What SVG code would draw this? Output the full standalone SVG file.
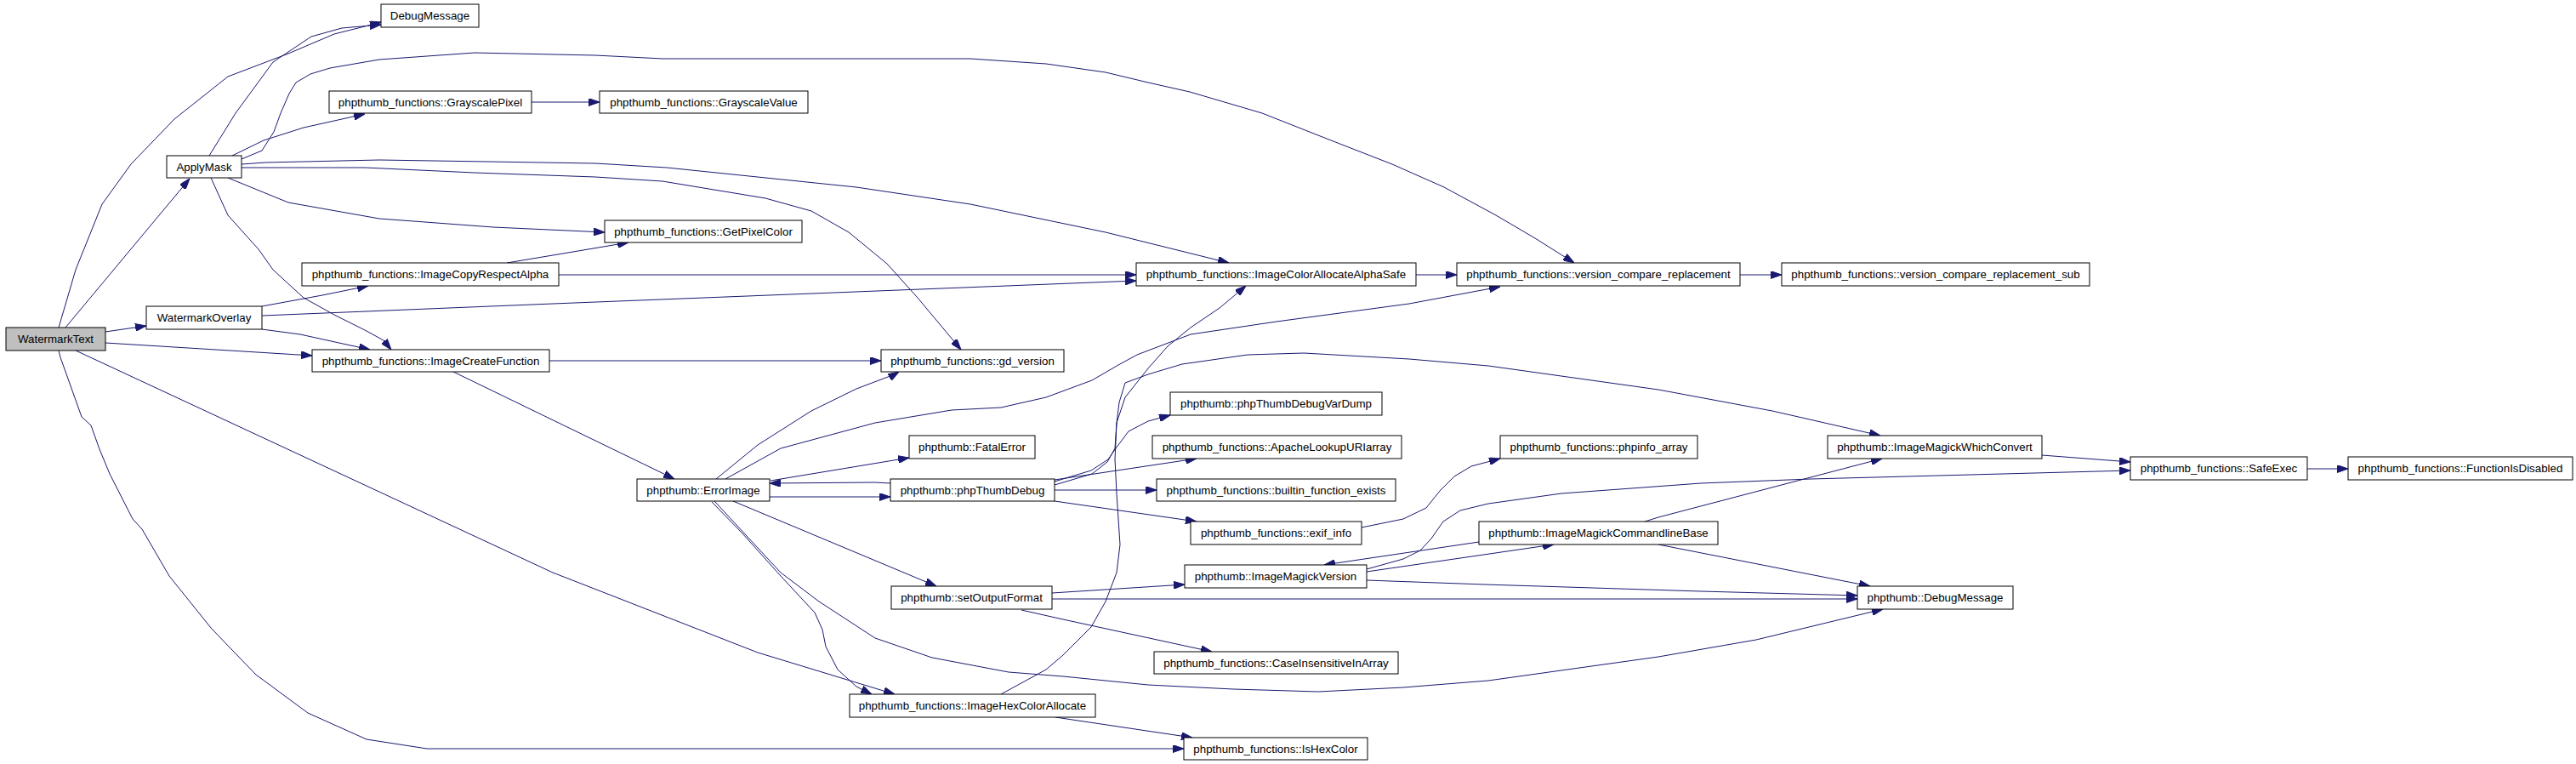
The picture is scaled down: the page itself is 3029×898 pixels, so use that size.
<svg xmlns="http://www.w3.org/2000/svg" width="3029" height="898" viewBox="0 0 3029 898">
<style>
.node rect{fill:#ffffff;stroke:#000000;stroke-width:1}
.node.root rect{fill:#bfbfbf}
.node text{font-family:"Liberation Sans",Arial,Helvetica,sans-serif;font-size:13.33px;fill:#000000;text-anchor:middle}
.edges path{fill:none;stroke:#191970;stroke-width:1;marker-end:url(#ah)}
</style>
<defs>
<marker id="ah" viewBox="0 0 13 9" refX="13" refY="4.5" markerWidth="13" markerHeight="9" markerUnits="userSpaceOnUse" orient="auto">
<path d="M0,0 L13,4.5 L0,9 z" fill="#191970" stroke="#191970" stroke-width="1"/>
</marker>
</defs>
<rect x="0" y="0" width="3029" height="898" fill="#ffffff"/>
<g class="edges">
<path d="M69,385 L89,317 L120,240 L154,193 L205,140 L268,90 L339,63 L393,40 L433,30 L448,26"/>
<path d="M77,385 L223,210"/>
<path d="M124,390 L172,383"/>
<path d="M124,403 L367,418"/>
<path d="M89,412 L650,673 L891,767 L1052,816"/>
<path d="M69,412 L71,420 L96,490 L107,500 L117,528 L129,557 L156,610 L167,622 L199,677 L248,738 L272,763 L301,793 L362,838 L431,869 L502,880 L1392,880"/>
<path d="M246,183 L277,133 L321,73 L366,43 L402,33 L448,29"/>
<path d="M273,183 L310,165 L357,150 L429,134"/>
<path d="M284,187 L308,177 L322,155 L330,133 L340,110 L348,97 L365,87 L388,80 L446,70 L558,62 L700,65 L779,69 L1141,69 L1230,75 L1300,85 L1350,97 L1399,108 L1484,133 L1560,163 L1637,193 L1698,220 L1759,253 L1805,280 L1851,309"/>
<path d="M284,193 L312,191 L446,188 L700,192 L784,197 L1007,220 L1141,240 L1300,273 L1445,309"/>
<path d="M284,197 L429,197 L558,203 L700,208 L779,213 L900,233 L954,248 L998,273 L1043,310 L1079,350 L1130,411"/>
<path d="M268,209 L339,238 L446,257 L580,267 L711,273"/>
<path d="M248,209 L268,253 L304,293 L321,317 L357,350 L393,370 L429,388 L451,400 L460,411"/>
<path d="M308,360 L379,347 L433,336"/>
<path d="M308,371 L650,357 L1336,330"/>
<path d="M308,387 L353,393 L435,411"/>
<path d="M596,309 L650,300 L739,285"/>
<path d="M657,323 L1336,323"/>
<path d="M625,120 L705,120"/>
<path d="M646,424 L1036,424"/>
<path d="M533,437 L793,563"/>
<path d="M1665,323 L1713,323"/>
<path d="M2046,323 L2095,323"/>
<path d="M842,563 L891,523 L954,483 L1007,457 L1052,440 L1057,437"/>
<path d="M853,563 L918,527 L1029,497 L1119,482 L1177,479 L1230,467 L1284,447 L1315,429 L1337,417 L1400,393 L1501,378 L1657,357 L1764,337"/>
<path d="M906,565 L1069,538"/>
<path d="M905,584 L1029,584 L1047,584"/>
<path d="M1047,568 L1029,567 L905,568"/>
<path d="M862,589 L1101,689"/>
<path d="M837,590 L873,627 L918,677 L958,720 L967,740 L971,760 L985,787 L1007,807 L1025,816"/>
<path d="M840,589 L918,673 L963,707 L1029,750 L1096,773 L1186,790 L1250,795 L1350,805 L1450,810 L1550,813 L1650,808 L1750,800 L1950,772 L2065,752 L2214,716"/>
<path d="M1240,566 L1283,553 L1303,540 L1312,527 L1327,507 L1350,495 L1376,488"/>
<path d="M1240,564 L1407,539"/>
<path d="M1240,576 L1360,576"/>
<path d="M1240,589 L1407,613"/>
<path d="M1240,570 L1284,557 L1302,543 L1311,527 L1313,497 L1316,473 L1323,450 L1350,440 L1390,428 L1467,417 L1533,415 L1657,422 L1750,430 L1950,458 L2084,483 L2211,512"/>
<path d="M1237,697 L1393,687"/>
<path d="M1237,704 L2184,704"/>
<path d="M1201,717 L1250,728 L1425,766"/>
<path d="M1177,816 L1230,787 L1250,770 L1283,737 L1300,707 L1313,673 L1317,640 L1313,580 L1311,540 L1313,497 L1323,467 L1350,433 L1373,407 L1400,385 L1434,362 L1465,336"/>
<path d="M1241,843 L1402,867"/>
<path d="M1601,620 L1650,610 L1677,597 L1693,577 L1710,560 L1730,548 L1764,539"/>
<path d="M1607,672 L1827,640"/>
<path d="M1739,637 L1557,664"/>
<path d="M1607,669 L1650,657 L1670,647 L1683,633 L1697,613 L1717,600 L1750,592 L1836,580 L2000,568 L2129,563 L2505,553"/>
<path d="M1607,682 L1746,687 L2000,695 L2184,700"/>
<path d="M1934,613 L1950,608 L2213,539"/>
<path d="M1950,640 L2199,689"/>
<path d="M2401,535 L2505,543"/>
<path d="M2713,551 L2761,551"/>
</g>
<g id="node_WatermarkText" class="node root"><rect x="7" y="385" width="117" height="27"/><text x="65.5" y="403.2">WatermarkText</text></g>
<g id="node_DebugMessage" class="node"><rect x="448" y="5" width="115" height="27"/><text x="505.5" y="23.2">DebugMessage</text></g>
<g id="node_ApplyMask" class="node"><rect x="196" y="183" width="88" height="26"/><text x="240" y="200.7">ApplyMask</text></g>
<g id="node_GrayscalePixel" class="node"><rect x="387" y="107" width="238" height="26"/><text x="506" y="124.7">phpthumb_functions::GrayscalePixel</text></g>
<g id="node_GrayscaleValue" class="node"><rect x="705" y="107" width="245" height="26"/><text x="827.5" y="124.7">phpthumb_functions::GrayscaleValue</text></g>
<g id="node_GetPixelColor" class="node"><rect x="711" y="259" width="232" height="26"/><text x="827" y="276.7">phpthumb_functions::GetPixelColor</text></g>
<g id="node_ImageCopyRespectAlpha" class="node"><rect x="355" y="309" width="302" height="27"/><text x="506" y="327.2">phpthumb_functions::ImageCopyRespectAlpha</text></g>
<g id="node_WatermarkOverlay" class="node"><rect x="172" y="360" width="136" height="27"/><text x="240" y="378.2">WatermarkOverlay</text></g>
<g id="node_ImageCreateFunction" class="node"><rect x="367" y="411" width="279" height="26"/><text x="506.5" y="428.7">phpthumb_functions::ImageCreateFunction</text></g>
<g id="node_ImageColorAllocateAlphaSafe" class="node"><rect x="1336" y="309" width="329" height="27"/><text x="1500.5" y="327.2">phpthumb_functions::ImageColorAllocateAlphaSafe</text></g>
<g id="node_version_compare_replacement" class="node"><rect x="1713" y="309" width="333" height="27"/><text x="1879.5" y="327.2">phpthumb_functions::version_compare_replacement</text></g>
<g id="node_version_compare_replacement_sub" class="node"><rect x="2095" y="309" width="362" height="27"/><text x="2276" y="327.2">phpthumb_functions::version_compare_replacement_sub</text></g>
<g id="node_gd_version" class="node"><rect x="1036" y="411" width="215" height="26"/><text x="1143.5" y="428.7">phpthumb_functions::gd_version</text></g>
<g id="node_ErrorImage" class="node"><rect x="749" y="563" width="156" height="26"/><text x="827" y="580.7">phpthumb::ErrorImage</text></g>
<g id="node_FatalError" class="node"><rect x="1069" y="512" width="148" height="27"/><text x="1143" y="530.2">phpthumb::FatalError</text></g>
<g id="node_phpThumbDebug" class="node"><rect x="1047" y="563" width="193" height="26"/><text x="1143.5" y="580.7">phpthumb::phpThumbDebug</text></g>
<g id="node_setOutputFormat" class="node"><rect x="1048" y="689" width="189" height="27"/><text x="1142.5" y="707.2">phpthumb::setOutputFormat</text></g>
<g id="node_ImageHexColorAllocate" class="node"><rect x="999" y="816" width="289" height="27"/><text x="1143.5" y="834.2">phpthumb_functions::ImageHexColorAllocate</text></g>
<g id="node_phpThumbDebugVarDump" class="node"><rect x="1376" y="461" width="249" height="27"/><text x="1500.5" y="479.2">phpthumb::phpThumbDebugVarDump</text></g>
<g id="node_ApacheLookupURIarray" class="node"><rect x="1355" y="512" width="293" height="27"/><text x="1501.5" y="530.2">phpthumb_functions::ApacheLookupURIarray</text></g>
<g id="node_builtin_function_exists" class="node"><rect x="1360" y="563" width="281" height="26"/><text x="1500.5" y="580.7">phpthumb_functions::builtin_function_exists</text></g>
<g id="node_exif_info" class="node"><rect x="1400" y="613" width="201" height="27"/><text x="1500.5" y="631.2">phpthumb_functions::exif_info</text></g>
<g id="node_ImageMagickVersion" class="node"><rect x="1393" y="664" width="214" height="27"/><text x="1500" y="682.2">phpthumb::ImageMagickVersion</text></g>
<g id="node_CaseInsensitiveInArray" class="node"><rect x="1357" y="766" width="287" height="26"/><text x="1500.5" y="783.7">phpthumb_functions::CaseInsensitiveInArray</text></g>
<g id="node_IsHexColor" class="node"><rect x="1392" y="867" width="216" height="26"/><text x="1500" y="884.7">phpthumb_functions::IsHexColor</text></g>
<g id="node_phpinfo_array" class="node"><rect x="1764" y="512" width="232" height="27"/><text x="1880" y="530.2">phpthumb_functions::phpinfo_array</text></g>
<g id="node_ImageMagickCommandlineBase" class="node"><rect x="1739" y="613" width="281" height="27"/><text x="1879.5" y="631.2">phpthumb::ImageMagickCommandlineBase</text></g>
<g id="node_ImageMagickWhichConvert" class="node"><rect x="2149" y="512" width="252" height="27"/><text x="2275" y="530.2">phpthumb::ImageMagickWhichConvert</text></g>
<g id="node_SafeExec" class="node"><rect x="2505" y="537" width="208" height="27"/><text x="2609" y="555.2">phpthumb_functions::SafeExec</text></g>
<g id="node_FunctionIsDisabled" class="node"><rect x="2761" y="537" width="264" height="27"/><text x="2893" y="555.2">phpthumb_functions::FunctionIsDisabled</text></g>
<g id="node_DebugMessage2" class="node"><rect x="2184" y="689" width="183" height="27"/><text x="2275.5" y="707.2">phpthumb::DebugMessage</text></g>
</svg>
